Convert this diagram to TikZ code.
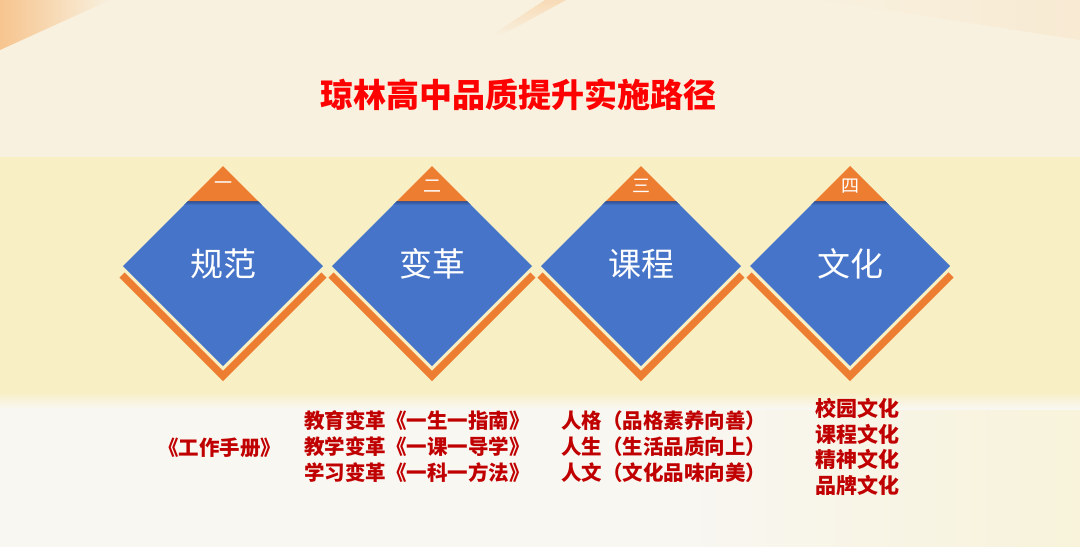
\documentclass[tikz,border=0pt]{standalone}
\usepackage{fontspec}
\usetikzlibrary{fadings}
\newfontfamily\cjk{Noto Sans CJK SC}
\definecolor{bgtop}{HTML}{F9F1DF}
\definecolor{bgband}{HTML}{F8EFC4}
\definecolor{bgbottom}{HTML}{F9F7F1}
\definecolor{peach}{HTML}{F7C58F}
\definecolor{dblue}{HTML}{4674C8}
\definecolor{dshadow}{HTML}{2E4F90}
\definecolor{dorange}{HTML}{ED7D31}
\definecolor{titlered}{HTML}{FF0000}
\definecolor{textred}{HTML}{C00000}
\tikzset{
  chevron/.style={draw=dorange, line width=7.2pt, line cap=butt, line join=miter},
  dfill/.style={fill=dblue},
  tri/.style={fill=dorange},
  dlabel/.style={text=white, inner sep=0pt, font=\cjk\fontsize{33}{36}\selectfont},
  numlabel/.style={text=white, inner sep=0pt, font=\cjk\fontsize{18}{18}\selectfont},
  titlestyle/.style={text=titlered, inner sep=0pt, font=\cjk\bfseries\fontsize{33}{36}\selectfont},
  listtext/.style={text=textred, inner sep=0pt, align=left, anchor=west, font=\cjk\bfseries\fontsize{20.5}{26}\selectfont},
}
\begin{document}
\begin{tikzpicture}[x=1pt, y=-1pt]
\useasboundingbox (0,0) rectangle (1080,547);
% background
\fill[bgtop] (0,0) rectangle (1080,157);
\fill[bgband] (0,157) rectangle (1080,393);
\fill[bgbottom] (0,407) rectangle (1080,547);
\shade[top color=bgband, bottom color=bgbottom] (0,392) rectangle (1080,408);
\fill[peach, path fading=east] (0,0) -- (110,0) -- (0,50) -- cycle;
\fill[peach, opacity=0.5, path fading=south] (545,0) -- (566,0) -- (500,36) -- (495,33) -- cycle;
\fill[peach, opacity=0.15, path fading=west] (820,0) -- (1080,0) -- (1080,40) -- cycle;
\fill[bgband, opacity=0.5, path fading=west] (700,410) rectangle (1080,547);
% title
\node[titlestyle] (title) at (518,95) {琼林高中品质提升实施路径};
% diamonds
\foreach \c/\t/\n [count=\i] in {223/规范/一, 432/变革/二, 641/课程/三, 850/文化/四} {
  \draw[chevron] (\c-101,275) -- (\c,376) -- (\c+101,275);
  \fill[dfill] (\c-35,201) -- (\c+35,201) -- (\c+100,266) -- (\c,366) -- (\c-100,266) -- cycle;
  \shade[top color=dshadow, bottom color=dblue] (\c-35,201) -- (\c+35,201) -- (\c+39,205) -- (\c-39,205) -- cycle;
  \fill[tri] (\c,166) -- (\c+35,201) -- (\c-35,201) -- cycle;
  \node[dlabel] (d\i) at (\c,264) {\t};
  \node[numlabel] (n\i) at (\c,186) {\n};
}
% lists
\node[listtext] (l1) at (158,448) {《工作手册》};
\node[listtext] (l2) at (304,447) {教育变革《一生一指南》\\教学变革《一课一导学》\\学习变革《一科一方法》};
\node[listtext] (l3) at (561,447) {人格（品格素养向善）\\人生（生活品质向上）\\人文（文化品味向美）};
\node[listtext, font=\cjk\bfseries\fontsize{21}{25.5}\selectfont] (l4) at (815,447) {校园文化\\课程文化\\精神文化\\品牌文化};
\end{tikzpicture}
\end{document}
